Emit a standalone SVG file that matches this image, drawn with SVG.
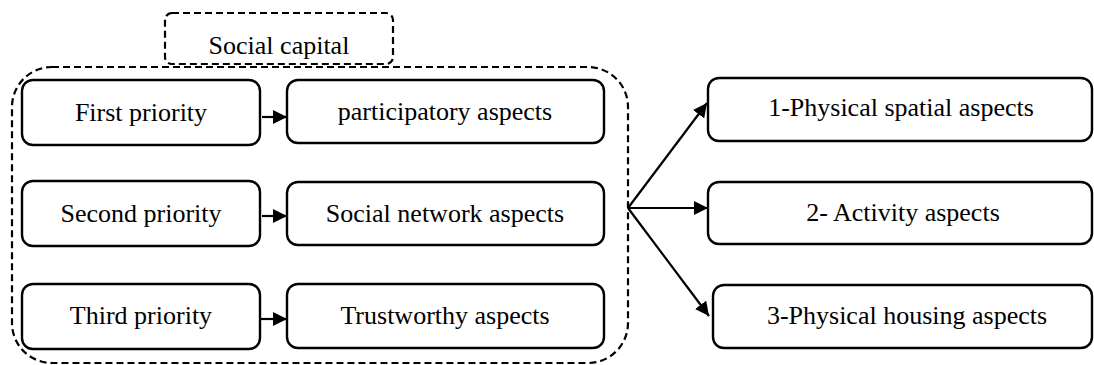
<svg xmlns="http://www.w3.org/2000/svg" width="1094" height="365" viewBox="0 0 1094 365">
<defs>
<style>
.box{fill:#fff;stroke:#000;stroke-width:2.4}
.dash{fill:none;stroke:#000;stroke-width:2.2;stroke-dasharray:7,4}
text{font-family:'Liberation Serif','Times New Roman',serif;font-size:26px;fill:#000;text-anchor:middle}
.conn{stroke:#000;stroke-width:2.2;fill:none}
</style>
<marker id="ah2" viewBox="0 0 10 10" refX="10" refY="5" markerWidth="14" markerHeight="14" markerUnits="userSpaceOnUse" orient="auto"><path d="M0,0 L10,5 L0,10 z" fill="#000"/></marker>
</defs>
<g id="group-social-capital">
<rect class="dash" x="12" y="67" width="616" height="296" rx="40" ry="40"/>
</g>
<g id="title-social-capital">
<rect class="dash" x="165" y="13" width="228" height="51" rx="7" ry="7" style="fill:#fff"/>
<text x="279" y="54">Social capital</text>
</g>
<g id="n-first-priority"><rect class="box" x="22" y="80" width="238" height="65" rx="11"/><text x="141" y="121">First priority</text></g>
<g id="n-participatory"><rect class="box" x="287" y="80" width="317" height="63" rx="11"/><text x="445" y="120">participatory aspects</text></g>
<g id="n-second-priority"><rect class="box" x="22" y="181" width="238" height="65" rx="11"/><text x="141" y="222">Second priority</text></g>
<g id="n-social-network"><rect class="box" x="287" y="182" width="317" height="63" rx="11"/><text x="445" y="222">Social network aspects</text></g>
<g id="n-third-priority"><rect class="box" x="22" y="284" width="238" height="65" rx="11"/><text x="141" y="324">Third priority</text></g>
<g id="n-trustworthy"><rect class="box" x="287" y="284" width="317" height="64" rx="11"/><text x="445" y="324">Trustworthy aspects</text></g>
<g id="n-physical-spatial"><rect class="box" x="708" y="78" width="384" height="63" rx="11"/><text x="901" y="116">1-Physical spatial aspects</text></g>
<g id="n-activity"><rect class="box" x="708" y="182" width="384" height="62" rx="11"/><text x="903" y="221">2- Activity aspects</text></g>
<g id="n-physical-housing"><rect class="box" x="713" y="285" width="379" height="63" rx="11"/><text x="907" y="324">3-Physical housing aspects</text></g>
<g id="connectors">
<line class="conn" x1="262" y1="117" x2="287" y2="117" marker-end="url(#ah2)"/>
<line class="conn" x1="262" y1="216" x2="287" y2="216" marker-end="url(#ah2)"/>
<line class="conn" x1="261" y1="319" x2="287" y2="319" marker-end="url(#ah2)"/>
<line class="conn" x1="628" y1="208" x2="707" y2="103" marker-end="url(#ah2)"/>
<line class="conn" x1="628" y1="208" x2="708" y2="208" marker-end="url(#ah2)"/>
<line class="conn" x1="628" y1="208" x2="709" y2="316" marker-end="url(#ah2)"/>
</g>
</svg>
